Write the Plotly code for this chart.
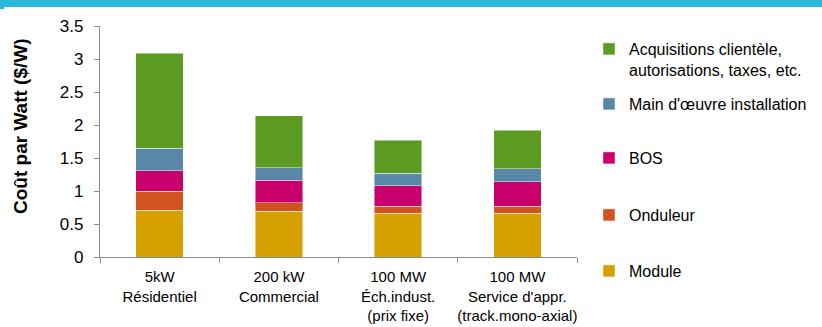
import plotly.graph_objects as go

# Installed PV system cost breakdown, $/W
categories = [
    "5kW<br>Résidentiel",
    "200 kW<br>Commercial",
    "100 MW<br>Éch.indust.<br>(prix fixe)",
    "100 MW<br>Service d'appr.<br>(track.mono-axial)",
]
module = [0.71, 0.69, 0.66, 0.66]
onduleur = [0.29, 0.13, 0.11, 0.11]
bos = [0.31, 0.34, 0.31, 0.37]
main_oeuvre = [0.34, 0.19, 0.19, 0.20]
acquisitions = [1.44, 0.79, 0.50, 0.58]

y_ticks = [0, 0.5, 1, 1.5, 2, 2.5, 3, 3.5]
y_tick_text = ["0", "0.5", "1", "1.5", "2", "2.5", "3", "3.5"]

series = [
    ("Module", module, "#D6A100"),
    ("Onduleur", onduleur, "#D05320"),
    ("BOS", bos, "#C9006B"),
    ("Main d'œuvre installation", main_oeuvre, "#5987A8"),
    ("Acquisitions clientèle,<br>autorisations, taxes, etc.", acquisitions, "#5B9B21"),
]

FONT = "Liberation Sans, Arial, sans-serif"
FS = 16
W, H = 822, 327
L, R, T, B = 100, 245, 26, 70
plot_w, plot_h = W - L - R, H - T - B

# legend rows (pixel y of each symbol centre, top to bottom)
legend_rows = [48, 104, 158, 215, 271]

fig = go.Figure()
layout_legends = {}
for i, (name, vals, color) in enumerate(series):
    key = "legend" if i == 0 else f"legend{i + 1}"
    fig.add_trace(go.Bar(
        x=categories, y=vals, name=name,
        marker=dict(color=color, line=dict(color="rgba(255,255,255,0.45)", width=1)),
        legend=key,
    ))
    py = legend_rows[len(series) - 1 - i]
    multiline = "<br>" in name
    layout_legends[key] = dict(
        x=(589 - L) / plot_w, xanchor="left",
        y=(H - B - py + (16 if multiline else 0)) / plot_h,
        yanchor="top" if multiline else "middle",
        font=dict(family=FONT, size=FS, color="#000000"),
        bgcolor="rgba(0,0,0,0)", valign="top",
        itemwidth=30, tracegroupgap=0,
    )

fig.update_layout(
    width=W, height=H,
    margin=dict(l=L, r=R, t=T, b=B, autoexpand=False),
    barmode="stack", bargap=0.6,
    plot_bgcolor="white", paper_bgcolor="white",
    font=dict(family=FONT, size=FS, color="#000000"),
    showlegend=True,
    **layout_legends,
)

fig.update_xaxes(
    type="category", tickson="boundaries", tickangle=0,
    showline=True, linecolor="#8C8C8C", linewidth=1.3,
    ticks="outside", ticklen=5, tickcolor="#8C8C8C",
    showgrid=False, ticklabelstandoff=6,
    tickfont=dict(family=FONT, size=15, color="#000000"),
)
fig.update_yaxes(
    range=[0, 3.5], tickvals=y_ticks, ticktext=y_tick_text,
    showline=True, linecolor="#8C8C8C", linewidth=1.3,
    ticks="outside", ticklen=5, tickcolor="#8C8C8C",
    showgrid=False, zeroline=False, ticklabelstandoff=7,
    tickfont=dict(family=FONT, size=FS + 1, color="#000000"),
)

# y axis title
fig.add_annotation(
    text="<b>Coût par Watt ($/W)</b>", textangle=-90,
    xref="paper", yref="paper",
    x=(20 - L) / plot_w, y=(H - B - 126) / plot_h,
    xanchor="center", yanchor="middle", showarrow=False,
    font=dict(family=FONT, size=19, color="#000000"),
)

# header band with its small tab at the left edge
fig.add_shape(
    type="rect", xref="paper", yref="paper", layer="above",
    x0=(0 - L) / plot_w, x1=(W - L) / plot_w,
    y0=(H - B - 7) / plot_h, y1=(H - B) / plot_h + 0.05,
    fillcolor="#27B9DC", line=dict(width=0),
)
fig.add_shape(
    type="rect", xref="paper", yref="paper", layer="above",
    x0=(0 - L) / plot_w, x1=(4 - L) / plot_w,
    y0=(H - B - 9) / plot_h, y1=(H - B - 6) / plot_h,
    fillcolor="#27B9DC", line=dict(width=0),
)

fig.write_html("out.html")
